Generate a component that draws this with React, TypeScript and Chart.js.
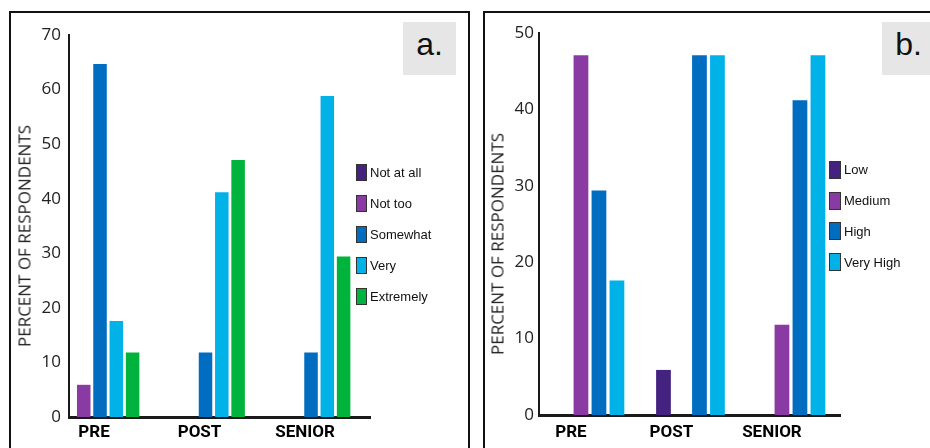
import React, { useEffect, useRef } from 'react';
import { Chart, registerables } from 'chart.js';

Chart.register(...registerables);

// ---------- data ----------
const CATEGORIES = ['PRE', 'POST', 'SENIOR'];

// panel a
const A_SERIES_NAMES = ['Not at all', 'Not too', 'Somewhat', 'Very', 'Extremely'];
const A_NOT_AT_ALL = [0, 0, 0];
const A_NOT_TOO = [5.9, 0, 0];
const A_SOMEWHAT = [64.7, 11.8, 11.8];
const A_VERY = [17.6, 41.2, 58.8];
const A_EXTREMELY = [11.8, 47.1, 29.4];
const A_Y_MAX = 70;

// panel b
const B_SERIES_NAMES = ['Low', 'Medium', 'High', 'Very High'];
const B_LOW = [0, 5.9, 0];
const B_MEDIUM = [47.1, 0, 11.8];
const B_HIGH = [29.4, 47.1, 41.2];
const B_VERY_HIGH = [17.6, 47.1, 47.1];
const B_Y_MAX = 50;

const Y_STEP = 10;
const Y_TITLE = 'PERCENT OF RESPONDENTS';

const COLORS_A = ['#43237f', '#8a3ba3', '#006dc0', '#00b2e8', '#00b33d'];
const COLORS_B = ['#43237f', '#8a3ba3', '#006dc0', '#00b2e8'];

type PanelProps = {
  left: number;
  top: number;
  width: number;
  height: number;
  yAxisWidth: number;
  xAxisHeight: number;
  padTop: number;
  padRight: number;
  series: number[][];
  names: string[];
  colors: string[];
  yMax: number;
  xMin: number;
  xMax: number;
  catPct: number;
  barPct: number;
  yTickPad: number;
  xTickPad: number;
  labelOffset: number;
};

function BarPanel(p: PanelProps) {
  const ref = useRef<HTMLCanvasElement>(null);
  useEffect(() => {
    const chart = new Chart(ref.current as HTMLCanvasElement, {
      type: 'bar',
      data: {
        datasets: p.series.map((vals, i) => ({
          label: p.names[i],
          data: vals.map((v, j) => ({ x: j, y: v })),
          backgroundColor: p.colors[i],
          borderWidth: 0,
          categoryPercentage: p.catPct,
          barPercentage: p.barPct,
        })),
      },
      options: {
        responsive: false,
        animation: false,
        devicePixelRatio: 1,
        layout: { padding: { top: p.padTop, right: p.padRight, left: 0, bottom: 0 } },
        plugins: { legend: { display: false }, tooltip: { enabled: false } },
        scales: {
          x: {
            type: 'linear',
            offset: false,
            min: p.xMin,
            max: p.xMax,
            grid: { display: false, drawTicks: false, offset: false },
            border: { display: true, color: '#1a1a1a', width: 3 },
            ticks: {
              stepSize: 1,
              includeBounds: false,
              autoSkip: false,
              maxRotation: 0,
              padding: p.xTickPad,
              labelOffset: p.labelOffset,
              color: '#000',
              font: { family: 'Roboto', size: 17, weight: 'bold' },
              callback: (v: any) => {
                const n = Number(v);
                return Number.isInteger(n) && CATEGORIES[n] ? CATEGORIES[n] : '';
              },
            },
            afterFit: (s: any) => {
              s.height = p.xAxisHeight;
            },
          },
          y: {
            type: 'linear',
            min: 0,
            max: p.yMax,
            grid: { display: false, drawTicks: false },
            border: { display: true, color: '#1a1a1a', width: 2 },
            ticks: {
              stepSize: Y_STEP,
              padding: p.yTickPad,
              color: '#222',
              font: { family: 'Open Sans', size: 17 },
            },
            afterFit: (s: any) => {
              s.width = p.yAxisWidth;
            },
          },
        },
      } as any,
    });
    return () => chart.destroy();
  }, []);
  return (
    <canvas
      ref={ref}
      width={p.width}
      height={p.height}
      style={{ position: 'absolute', left: p.left, top: p.top, width: p.width, height: p.height }}
    />
  );
}

function Legend(props: {
  left: number;
  top: number;
  rowH: number;
  boxW: number;
  boxH: number;
  gap: number;
  names: string[];
  colors: string[];
}) {
  return (
    <div style={{ position: 'absolute', left: props.left, top: props.top }}>
      {props.names.map((n, i) => (
        <div key={n} style={{ height: props.rowH, display: 'flex', alignItems: 'center' }}>
          <div
            style={{
              width: props.boxW,
              height: props.boxH,
              background: props.colors[i],
              border: '1px solid #333',
              boxSizing: 'border-box',
            }}
          />
          <span
            style={{
              marginLeft: props.gap,
              font: '13px "Liberation Sans", Arial, sans-serif',
              color: '#111',
              lineHeight: '13px',
              whiteSpace: 'nowrap',
            }}
          >
            {n}
          </span>
        </div>
      ))}
    </div>
  );
}

function YTitle(props: { cx: number; cy: number }) {
  return (
    <div
      style={{
        position: 'absolute',
        left: props.cx,
        top: props.cy,
        transform: 'translate(-50%, -50%) rotate(-90deg)',
        font: '17px "Open Sans", sans-serif',
        lineHeight: '17px',
        color: '#222',
        whiteSpace: 'nowrap',
      }}
    >
      {Y_TITLE}
    </div>
  );
}

function Tag(props: { left: number; text: string }) {
  return (
    <div
      style={{
        position: 'absolute',
        left: props.left,
        top: 22,
        width: 53,
        height: 53,
        background: '#e6e6e6',
      }}
    >
      <div
        style={{
          position: 'absolute',
          left: 0,
          top: 6,
          width: 53,
          textAlign: 'center',
          font: '32px "Liberation Sans", Arial, sans-serif',
          lineHeight: '32px',
          color: '#111',
        }}
      >
        {props.text}
      </div>
    </div>
  );
}

export default function App() {
  return (
    <div
      style={{
        position: 'fixed',
        left: 0,
        top: 0,
        width: 930,
        height: 448,
        overflow: 'hidden',
        background: '#fff',
      }}
    >
      {/* panel a */}
      <div
        style={{
          position: 'absolute',
          left: 9,
          top: 11,
          width: 461,
          height: 460,
          border: '2px solid #111',
          boxSizing: 'border-box',
        }}
      />
      <Tag left={403} text="a." />
      <BarPanel
        left={10}
        top={12}
        width={372}
        height={436}
        yAxisWidth={59}
        xAxisHeight={31}
        padTop={23}
        padRight={12}
        series={[A_NOT_AT_ALL, A_NOT_TOO, A_SOMEWHAT, A_VERY, A_EXTREMELY]}
        names={A_SERIES_NAMES}
        colors={COLORS_A}
        yMax={A_Y_MAX}
        xMin={-0.294}
        xMax={2.559}
        catPct={0.772}
        barPct={0.83}
        yTickPad={8}
        xTickPad={6}
        labelOffset={-6}
      />
      <YTitle cx={24} cy={236} />
      <Legend
        left={356}
        top={157}
        rowH={30.9}
        boxW={11}
        boxH={17}
        gap={3}
        names={A_SERIES_NAMES}
        colors={COLORS_A}
      />

      {/* panel b */}
      <div
        style={{
          position: 'absolute',
          left: 483,
          top: 11,
          width: 470,
          height: 460,
          border: '2px solid #111',
          boxSizing: 'border-box',
        }}
      />
      <Tag left={882} text="b." />
      <BarPanel
        left={486}
        top={12}
        width={360}
        height={436}
        yAxisWidth={53}
        xAxisHeight={33}
        padTop={21}
        padRight={6}
        series={[B_LOW, B_MEDIUM, B_HIGH, B_VERY_HIGH]}
        names={B_SERIES_NAMES}
        colors={COLORS_B}
        yMax={B_Y_MAX}
        xMin={-0.507}
        xMax={2.488}
        catPct={0.716}
        barPct={0.82}
        yTickPad={5}
        xTickPad={8}
        labelOffset={-19}
      />
      <YTitle cx={497} cy={244} />
      <Legend
        left={829}
        top={154.6}
        rowH={30.7}
        boxW={12}
        boxH={18}
        gap={3}
        names={B_SERIES_NAMES}
        colors={COLORS_B}
      />
    </div>
  );
}
